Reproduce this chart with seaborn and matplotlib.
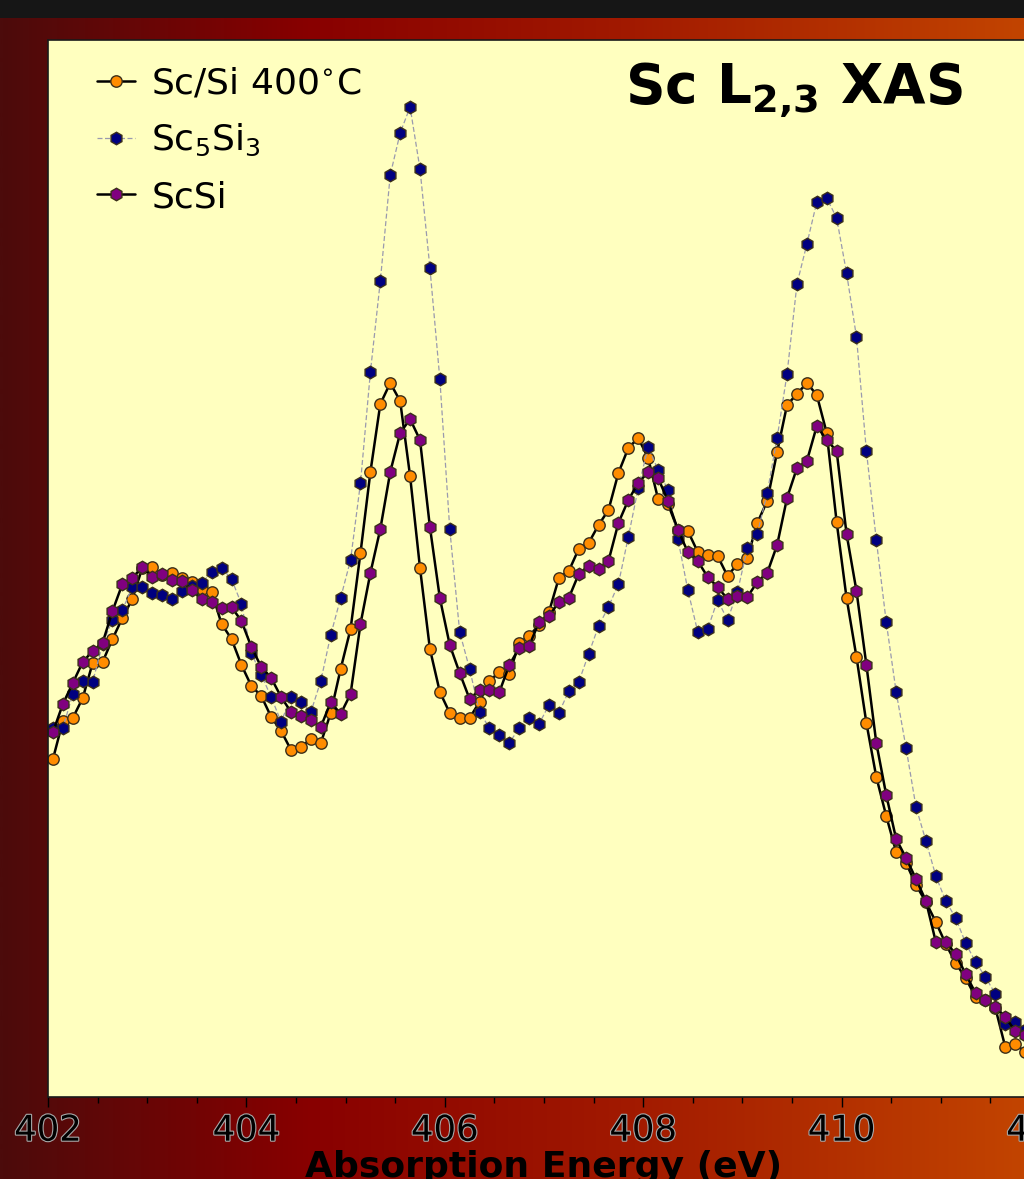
import numpy as np
import matplotlib
matplotlib.use("Agg")
import matplotlib.pyplot as plt
import matplotlib.patheffects as pe
from matplotlib.colors import LinearSegmentedColormap
from matplotlib.patches import Rectangle
from matplotlib.ticker import MultipleLocator
import seaborn as sns

# Photon energy grid (eV)
energy = [
    402.05, 402.15, 402.25, 402.35, 402.45, 402.55, 402.65, 402.75, 402.85, 402.95,
    403.05, 403.15, 403.25, 403.35, 403.45, 403.55, 403.65, 403.75, 403.85, 403.95,
    404.05, 404.15, 404.25, 404.35, 404.45, 404.55, 404.65, 404.75, 404.85, 404.95,
    405.05, 405.15, 405.25, 405.35, 405.45, 405.55, 405.65, 405.75, 405.85, 405.95,
    406.05, 406.15, 406.25, 406.35, 406.45, 406.55, 406.65, 406.75, 406.85, 406.95,
    407.05, 407.15, 407.25, 407.35, 407.45, 407.55, 407.65, 407.75, 407.85, 407.95,
    408.05, 408.15, 408.25, 408.35, 408.45, 408.55, 408.65, 408.75, 408.85, 408.95,
    409.05, 409.15, 409.25, 409.35, 409.45, 409.55, 409.65, 409.75, 409.85, 409.95,
    410.05, 410.15, 410.25, 410.35, 410.45, 410.55, 410.65, 410.75, 410.85, 410.95,
    411.05, 411.15, 411.25, 411.35, 411.45, 411.55, 411.65, 411.75, 411.85,
]

# Sc/Si multilayer annealed at 400 C (arb. units)
sc_si_400 = [
    33.8, 37.6, 37.9, 39.9, 43.4, 43.5, 45.8, 47.9, 49.8, 52.9,
    53.0, 52.2, 52.4, 51.9, 51.5, 50.8, 50.5, 47.3, 45.8, 43.2,
    41.1, 40.1, 38.0, 36.6, 34.7, 35.0, 35.8, 35.4, 38.4, 42.8,
    46.8, 54.4, 62.5, 69.3, 71.4, 69.6, 62.1, 52.9, 44.8, 40.5,
    38.4, 37.9, 37.9, 39.5, 41.6, 42.5, 42.3, 45.4, 46.1, 47.2,
    48.5, 51.9, 52.6, 54.8, 55.4, 57.2, 58.7, 62.4, 64.9, 65.9,
    63.9, 59.8, 59.3, 56.7, 56.6, 54.5, 54.2, 54.1, 52.1, 53.3,
    53.9, 57.4, 59.6, 64.5, 69.2, 70.3, 71.4, 70.2, 66.4, 57.5,
    49.9, 44.0, 37.4, 32.0, 28.1, 24.5, 23.4, 21.2, 19.5, 17.5,
    15.3, 13.4, 11.9, 10.0, 9.7, 8.9, 5.0, 5.3, 4.5,
]

# Sc5Si3 reference (arb. units)
sc5si3 = [
    36.9, 36.9, 40.3, 41.6, 41.5, 45.3, 47.7, 48.7, 51.0, 51.0,
    50.4, 50.2, 49.8, 50.6, 51.1, 51.4, 52.5, 52.9, 51.8, 49.3,
    44.4, 42.2, 40.0, 37.5, 40.0, 39.5, 38.5, 41.6, 46.2, 49.9,
    53.7, 61.4, 72.5, 81.6, 92.2, 96.4, 99.0, 92.8, 82.9, 71.8,
    56.8, 46.5, 42.8, 38.5, 36.9, 36.2, 35.4, 36.9, 37.9, 37.3,
    39.2, 38.4, 40.6, 41.5, 44.3, 47.1, 49.0, 51.3, 56.0, 60.9,
    65.0, 62.7, 60.7, 55.8, 50.7, 46.5, 46.8, 49.7, 47.7, 50.5,
    54.9, 56.3, 60.4, 65.9, 72.3, 81.3, 85.3, 89.5, 89.9, 87.9,
    82.4, 76.0, 64.6, 55.7, 47.5, 40.5, 34.9, 29.0, 25.6, 22.1,
    19.6, 17.9, 15.4, 13.5, 12.0, 10.3, 7.3, 7.5, 6.7,
]

# ScSi reference (arb. units)
scsi = [
    36.5, 39.3, 41.4, 43.5, 44.6, 45.4, 48.6, 51.3, 51.9, 53.0,
    52.0, 52.3, 51.7, 51.6, 50.7, 49.8, 49.5, 48.9, 49.0, 47.6,
    45.0, 43.0, 41.9, 40.0, 38.5, 38.1, 37.7, 37.0, 39.5, 38.3,
    40.3, 47.3, 52.4, 56.8, 62.5, 66.4, 67.8, 65.7, 57.0, 49.9,
    45.2, 42.4, 39.8, 40.7, 40.7, 40.5, 43.2, 44.9, 45.1, 47.5,
    48.1, 49.5, 49.9, 52.3, 53.1, 52.8, 53.6, 57.4, 59.7, 61.4,
    62.5, 61.9, 59.6, 56.7, 54.5, 53.6, 52.0, 51.0, 49.8, 50.1,
    50.0, 51.5, 52.4, 55.2, 59.9, 62.9, 63.6, 67.1, 65.7, 64.6,
    56.3, 50.6, 43.2, 35.4, 30.2, 25.8, 23.9, 21.8, 19.6, 15.5,
    15.5, 14.3, 12.3, 10.4, 9.7, 9.0, 8.0, 6.6, 6.2,
]

labels = [r"Sc/Si 400$^{\circ}$C", r"Sc$_5$Si$_3$", "ScSi"]
x_ticks = [402, 404, 406, 408, 410, 412]

sns.set_style("ticks")
plt.rcParams["font.family"] = ["DejaVu Sans"]
plt.rcParams["mathtext.fontset"] = "dejavusans"
plt.rcParams["text.color"] = "black"
plt.rcParams["axes.labelcolor"] = "black"
plt.rcParams["xtick.color"] = "black"
plt.rcParams["xtick.labelcolor"] = "black"

fig = plt.figure(figsize=(10.24, 11.79), dpi=100)

# warm horizontal gradient behind everything
bg = fig.add_axes([0, 0, 1, 1], zorder=0)
bg_cmap = LinearSegmentedColormap.from_list(
    "warm", [(0.0, "#4c0b0b"), (0.3, "#880000"), (0.62, "#a21a00"), (1.0, "#c24400")]
)
bg.imshow(np.linspace(0, 1, 512)[None, :], aspect="auto", cmap=bg_cmap,
          extent=[0, 1, 0, 1], interpolation="bilinear")
bg.set_axis_off()
fig.patches.append(Rectangle((0, 1 - 18 / 1179), 1, 18 / 1179, transform=fig.transFigure,
                             facecolor="#161616", edgecolor="none", zorder=1))

ax = fig.add_axes([48 / 1024, 1 - 1097 / 1179, 992 / 1024, 1057 / 1179], zorder=2)
ax.set_facecolor("#ffffbf")

edge = "#3b2f1a"
sns.lineplot(x=energy, y=sc_si_400, ax=ax, estimator=None, sort=False,
             color="black", linewidth=1.8, marker="o", markersize=8.2,
             markerfacecolor="#ff8c00", markeredgecolor=edge, markeredgewidth=1.0,
             label=labels[0])
sns.lineplot(x=energy, y=sc5si3, ax=ax, estimator=None, sort=False,
             color="#9a9aae", linewidth=0.9, linestyle=(0, (4, 2)),
             marker="h", markersize=9.0,
             markerfacecolor="#000080", markeredgecolor=edge, markeredgewidth=1.0,
             label=labels[1])
sns.lineplot(x=energy, y=scsi, ax=ax, estimator=None, sort=False,
             color="black", linewidth=1.8, marker="h", markersize=9.0,
             markerfacecolor="#800080", markeredgecolor=edge, markeredgewidth=1.0,
             label=labels[2])

ax.set_xlim(402, 412)
ax.set_ylim(0, 105.7)
ax.set_xticks(x_ticks)
ax.xaxis.set_minor_locator(MultipleLocator(0.5))
ax.set_yticks([])
ax.tick_params(axis="x", which="major", direction="out", length=7, width=1,
               labelsize=25.5, pad=5, colors="black")
ax.tick_params(axis="x", which="minor", direction="out", length=4, width=1)
for lab in ax.get_xticklabels():
    lab.set_path_effects([pe.withStroke(linewidth=1.6, foreground="#a8a8a8")])

ax.set_xlabel("Absorption Energy (eV)", fontsize=26, fontweight="bold",
              labelpad=2, color="black")
ax.set_ylabel("")
for sp in ax.spines.values():
    sp.set_color("#1a1a1a")
    sp.set_linewidth(1.2)

ax.text(0.922, 0.9407, r"Sc L$_{\mathbf{2{,}3}}$ XAS", transform=ax.transAxes,
        ha="right", va="baseline", fontsize=39.5, fontweight="bold", color="black")

leg = ax.legend(loc="upper left", bbox_to_anchor=(0.0494, 0.975), frameon=False,
                fontsize=26, handlelength=1.05, handletextpad=0.45, labelspacing=0.6,
                borderaxespad=0, borderpad=0)
for t in leg.get_texts():
    t.set_color("black")

fig.savefig("out.png", dpi=100)
